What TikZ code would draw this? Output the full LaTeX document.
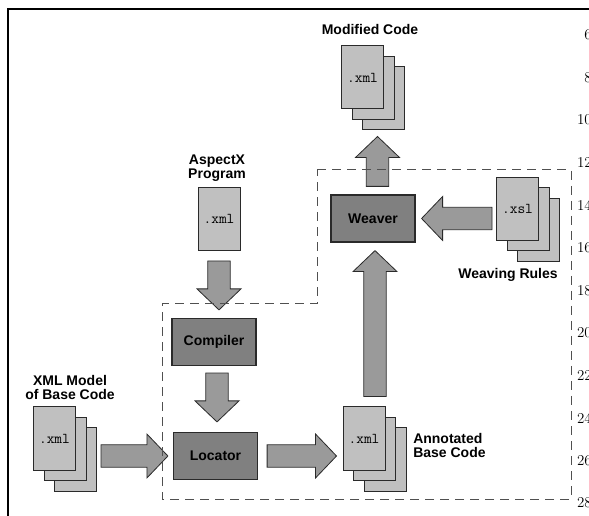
\documentclass[tikz,border=0pt]{standalone}
\usepackage{fontspec}
\setsansfont{Liberation Sans}
\usetikzlibrary{calc}

\definecolor{pagefill}{HTML}{C0C0C0}
\definecolor{boxfill}{HTML}{808080}
\definecolor{arrowfill}{HTML}{9A9A9A}
\definecolor{edge}{HTML}{2A2A2A}
\definecolor{dashgray}{HTML}{505050}

\tikzset{
  page/.style={draw=edge, line width=0.75pt, fill=pagefill,
    minimum width=31.5pt, minimum height=47.25pt, inner sep=0pt,
    font=\ttfamily\fontsize{11.25}{11}\selectfont},
  process/.style={draw=edge, line width=0.9pt, fill=boxfill,
    minimum width=63pt, minimum height=35.25pt, inner sep=0pt,
    font=\sffamily\bfseries\fontsize{10.5}{11}\selectfont},
  caption/.style={font=\sffamily\bfseries\fontsize{10.5}{10.5}\selectfont,
    align=center, inner sep=0pt},
  blockarrow/.style={draw=edge, line width=0.6pt, fill=arrowfill, line join=miter},
  region/.style={draw=dashgray, line width=0.75pt, dash pattern=on 6.75pt off 4.5pt},
  frameline/.style={line width=1.5pt, draw=black},
  linenum/.style={font=\rmfamily\fontsize{11.25}{12}\selectfont, anchor=east, inner sep=0pt},
}

% stack of three pages; the front page carries the file extension
\newcommand\docstack[3]{%
  \node[page] (#1-3) at ($(#2)+(21,21)$) {};
  \node[page] (#1-2) at ($(#2)+(10.5,10.5)$) {};
  \node[page] (#1) at (#2) {#3};
}

% wide block arrow from coordinate #1 to tip #2
\newcommand\fatarrow[2]{%
  \coordinate (fa-b) at ($(#2)!15.75pt!(#1)$);
  \draw[blockarrow]
    ($(#1)!8.4pt!90:(#2)$) -- ($(fa-b)!8.4pt!-90:(#1)$) --
    ($(fa-b)!16.5pt!-90:(#1)$) -- (#2) --
    ($(fa-b)!16.5pt!90:(#1)$) -- ($(fa-b)!8.4pt!90:(#1)$) --
    ($(#1)!8.4pt!-90:(#2)$) -- cycle;
}

\begin{document}
\begin{tikzpicture}[x=0.75pt, y=-0.75pt]
\useasboundingbox (0,0) rectangle (589,516);

% frame edges
\draw[frameline] (8,520) -- (8,9) -- (595,9);

% margin line numbers
\foreach \n/\yy in {6/35, 8/78, 10/120, 12/163, 14/205, 16/248,
                    18/291, 20/333, 22/376, 24/418, 26/461, 28/503}
  \node[linenum] (ln\n) at (592,\yy) {\n};

% documents
\docstack{mod}{362.5,77.5}{.xml}
\docstack{xsl}{517.5,209}{.xsl}
\docstack{xmlmodel}{54.5,438.5}{.xml}
\docstack{annot}{364,438.5}{.xml}
\node[page] (aspect) at (219,219) {.xml};

% processing steps
\node[process] (weaver) at (373,218.5) {Weaver};
\node[process] (compiler) at (214,342) {Compiler};
\node[process] (locator) at (215.5,456) {Locator};

% captions
\node[caption] (modcap) at (370,30) {Modified Code};
\node[caption] (aspcap) at (217,168) {AspectX\\Program};
\node[caption] (xmlcap) at (70,387) {XML Model\\of Base Code};
\node[caption, align=left, anchor=west] (anncap) at (413,445.5) {Annotated\\Base Code};
\node[caption] (rulecap) at (508,275) {Weaving Rules};

% data flow
\coordinate (a1s) at ($(weaver.north)+(4.5,-8)$);
\coordinate (a1t) at ($(a1s |- mod-3.south)+(0,6)$);
\fatarrow{a1s}{a1t}

\coordinate (a2s) at ($(annot.north)+(11,-10)$);
\coordinate (a2t) at ($(a2s |- weaver.south)+(0,8)$);
\fatarrow{a2s}{a2t}

\coordinate (a3s) at ($(xsl.west |- weaver.east)+(-4,0)$);
\coordinate (a3t) at ($(weaver.east)+(6,0)$);
\fatarrow{a3s}{a3t}

\coordinate (a4s) at ($(aspect.south)+(0,10)$);
\coordinate (a4t) at ($(a4s |- compiler.north)+(0,-8)$);
\fatarrow{a4s}{a4t}

\coordinate (a5s) at ($(compiler.south)+(3,7)$);
\coordinate (a5t) at ($(a5s |- locator.north)+(0,-10)$);
\fatarrow{a5s}{a5t}

\coordinate (a6s) at ($(xmlmodel-3.east |- locator.west)+(4,0)$);
\coordinate (a6t) at ($(locator.west)+(-5,0)$);
\fatarrow{a6s}{a6t}

\coordinate (a7s) at ($(locator.east)+(9,0)$);
\coordinate (a7t) at ($(annot.west |- locator.east)+(-6,0)$);
\fatarrow{a7s}{a7t}

% dashed system boundary
\draw[region] (317,170) -- (571,170) -- (571,499) -- (162,499)
  -- (162,304) -- (317,304) -- cycle;
\end{tikzpicture}
\end{document}
